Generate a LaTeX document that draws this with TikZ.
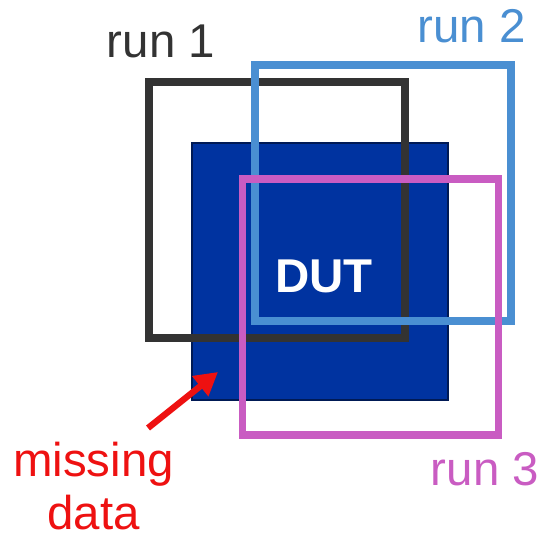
\documentclass[tikz,border=0pt]{standalone}
\usepackage{fontspec}
\setmainfont{Liberation Sans}
\usepackage{xcolor}
\usepackage{tikz}
\usetikzlibrary{arrows.meta,positioning}

\definecolor{runone}{HTML}{333333}
\definecolor{runtwo}{HTML}{4A8FD2}
\definecolor{runthree}{HTML}{C95CC2}
\definecolor{dutfill}{HTML}{0033A0}
\definecolor{dutline}{HTML}{001A55}
\definecolor{missred}{HTML}{EE1111}

\begin{document}
\begin{tikzpicture}[
  x=0.02cm, y=-0.02cm,
  runbox/.style={draw=#1, line width=4.5pt, minimum width=5.12cm, minimum height=5.12cm, inner sep=0pt},
  dutbox/.style={draw=dutline, fill=dutfill, line width=1.1pt, minimum width=5.12cm, minimum height=5.14cm, inner sep=0pt},
  lbl/.style={anchor=base, inner sep=0pt, font=\fontsize{27}{32}\selectfont},
  edg/.style={-{Triangle[length=13pt, width=14pt]}, line width=3.6pt, missred}
]
\useasboundingbox (0,0) rectangle (543,536);

\node[dutbox] (DUT) at (320,271.5) {};
\node[runbox=runone] (R1) at (277.25,210) {};
\node[runbox=runtwo] (R2) at (383.25,193) {};
\node[runbox=runthree] (R3) at (370.5,307) {};

\node[lbl, text=white, font=\fontsize{27}{32}\selectfont\bfseries] (Dlbl) at (324,293) {DUT};
\node[lbl, text=runone] (L1) at (161,58) {run 1};
\node[lbl, text=runtwo] (L2) at (471.5,43) {run 2};
\node[lbl, text=runthree] (L3) at (485,485) {run 3};
\node[lbl, text=missred] (M1) at (93.5,476) {missing};
\node[lbl, text=missred] (M2) at (93.5,529) {data};

\coordinate (tail) at (148,428);
\coordinate (tip) at (218,372);
\draw[edg] (tail) -- (tip);

\end{tikzpicture}
\end{document}
